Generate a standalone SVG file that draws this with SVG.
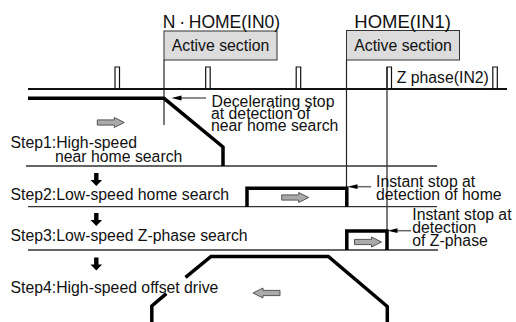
<svg xmlns="http://www.w3.org/2000/svg" width="516" height="322" viewBox="0 0 516 322">
  <defs>
    <style>
      text { font-family: "Liberation Sans", Arial, "Noto Sans CJK JP", sans-serif; fill: #111; }
      .lbl { font-size: 15.8px; }
      .sig { font-size: 17.5px; }
      .box { fill: #dcdcdc; stroke: #333; stroke-width: 1; }
      .thin { fill: none; stroke: #222; stroke-width: 1.2; }
      .sep { fill: none; stroke: #333; stroke-width: 1.3; }
      .base { fill: none; stroke: #111; stroke-width: 1.8; }
      .pulse { fill: none; stroke: #111; stroke-width: 1.2; }
      .speed { fill: none; stroke: #000; stroke-width: 3.5; stroke-linejoin: miter; }
      .block { fill: #aaa; stroke: #555; stroke-width: 1; }
      .lead { fill: none; stroke: #666; stroke-width: 1.5; }
      .tip { fill: #000; }
    </style>
    <!-- hollow grey direction arrow, pointing right, origin at tail centre -->
    <path id="dir" class="block" d="M0,-2.6 H17 V-5 L27,0 L17,5 V2.6 H0 Z"/>
    <!-- solid black step-transition arrow, origin at top centre -->
    <path id="down" d="M-2.2,0 H2.2 V7 H5.8 L0,13 L-5.8,7 H-2.2 Z" fill="#000"/>
    <!-- small black arrowhead for leader lines, tip at origin pointing left -->
    <path id="head" class="tip" d="M0,0 L10,-2.4 L10,2.4 Z"/>
  </defs>

  <!-- input signals -->
  <g id="nhome-signal">
    <rect class="box" x="164" y="31" width="113" height="29"/>
    <text class="sig" x="162.7" y="27.5">N<tspan dx="3.8">·</tspan><tspan dx="3.8">HOME(IN0)</tspan></text>
    <text class="lbl" x="220.5" y="51" text-anchor="middle">Active section</text>
    <path class="thin" d="M164,60 V125"/>
  </g>
  <g id="home-signal">
    <rect class="box" x="346.5" y="30.5" width="113" height="29.5"/>
    <text class="sig" x="354.3" y="27.5" textLength="96.7" lengthAdjust="spacingAndGlyphs">HOME(IN1)</text>
    <text class="lbl" x="403" y="51" text-anchor="middle">Active section</text>
    <path class="thin" d="M346.5,60 V188"/>
  </g>
  <g id="zphase-signal">
    <path class="base" d="M28,89 H507"/>
    <path class="pulse" d="M115,89 V67 H119.5 V89 M205.7,89 V67 H210.2 V89 M296.2,89 V67 H300.7 V89 M387,89 V67 H391.5 V89 M492.8,89 V67 H497.3 V89"/>
    <path class="thin" d="M387,67 V250"/>
    <text class="lbl" x="396.7" y="83">Z phase(IN2)</text>
  </g>

  <!-- step separators -->
  <g id="separators">
    <path class="sep" d="M26,166 H437 M28,206.7 H437 M28,250 H438"/>
  </g>

  <!-- step 1 -->
  <g id="step1">
    <path class="speed" d="M28,98.3 H164 L223,147 V166"/>
    <use href="#dir" x="97.3" y="122.5"/>
    <text class="lbl"><tspan x="10.5" y="148">Step1:High-speed</tspan><tspan x="55" y="162">near home search</tspan></text>
  </g>
  <g id="note1">
    <text class="lbl"><tspan x="211.5" y="106.5">Decelerating stop</tspan><tspan x="211" y="118.6">at detection of</tspan><tspan x="211" y="130.7">near home search</tspan></text>
  </g>

  <!-- step 2 -->
  <g id="step2">
    <path class="speed" d="M247,207 V188.3 H346.8 V207"/>
    <use href="#dir" x="281.7" y="197.5"/>
    <text class="lbl" x="10.5" y="200">Step2:Low-speed home search</text>
  </g>
  <g id="note2">
    <text class="lbl"><tspan x="376" y="186.5">Instant stop at</tspan><tspan x="376" y="200">detection of home</tspan></text>
  </g>

  <!-- step 3 -->
  <g id="step3">
    <path class="speed" d="M346.8,250 V231 H387 V250"/>
    <use href="#dir" x="354.5" y="242"/>
    <text class="lbl" x="10.5" y="241">Step3:Low-speed Z-phase search</text>
  </g>
  <g id="note3">
    <text class="lbl"><tspan x="412.3" y="220">Instant stop at</tspan><tspan x="412.3" y="233">detection</tspan><tspan x="412.3" y="246">of Z-phase</tspan></text>
  </g>

  <!-- step 4 -->
  <g id="step4">
    <path class="speed" d="M151.8,322 V306 L166.3,293.7 M185.5,277.4 L211,256.5 H328.3 L387.3,306.5 V322"/>
    <use href="#dir" transform="translate(280,293) scale(-1,1)"/>
    <text class="lbl" x="10.5" y="293">Step4:High-speed offset drive</text>
  </g>

  <!-- connectors: step transitions and leader arrows -->
  <g id="connectors">
    <use href="#down" x="96.3" y="173"/>
    <use href="#down" x="96.3" y="213"/>
    <use href="#down" x="96.3" y="257.5"/>
    <path class="lead" d="M181,98 H206"/>
    <use href="#head" x="171.5" y="98"/>
    <path class="lead" d="M357,186.7 H371"/>
    <use href="#head" x="347.5" y="186.7"/>
    <path class="lead" d="M397,230.7 H411"/>
    <use href="#head" x="387.5" y="230.7"/>
  </g>
</svg>
